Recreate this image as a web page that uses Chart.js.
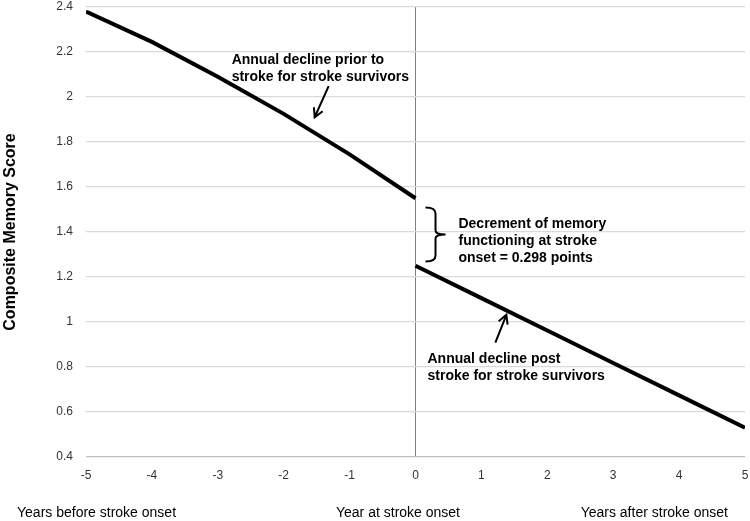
<!DOCTYPE html>
<html>
<head>
<meta charset="utf-8">
<script src="https://cdn.jsdelivr.net/npm/chart.js@4/dist/chart.umd.min.js"></script>
<style>
  html, body { margin: 0; padding: 0; background: #fff; }
  #wrap { width: 750px; height: 521px; position: relative; }
</style>
</head>
<body>
<div id="wrap"><canvas id="memoryChart"></canvas></div>
<script>
// years relative to stroke onset
const yearsBefore = [-5, -4, -3, -2, -1, 0];
const yearsAfter = [0, 1, 2, 3, 4, 5];

// composite memory score
const scoreBefore = [2.38, 2.245, 2.09, 1.925, 1.745, 1.55];
const scoreAfter = [1.25, 1.106, 0.962, 0.818, 0.674, 0.53];

const xTicks = [-5, -4, -3, -2, -1, 0, 1, 2, 3, 4, 5];
const yTicks = [0.4, 0.6, 0.8, 1, 1.2, 1.4, 1.6, 1.8, 2, 2.2, 2.4];

const bottomLabels = ["Years before stroke onset", "Year at stroke onset", "Years after stroke onset"];

const colors = {
  line: "#000000",
  grid: "#d9d9d9",
  axis: "#bfbfbf",
  zero: "#808080",
  text: "#333333",
  title: "#000000",
};

const FONT = "'Liberation Sans', Arial, sans-serif";

// annotation text + arrows, given in data coordinates
const notes = [
  { lines: ["Annual decline prior to", "stroke for stroke survivors"], x: -2.79, y: 2.164 },
  { lines: ["Decrement of memory", "functioning at stroke", "onset = 0.298 points"], x: 0.652, y: 1.433 },
  { lines: ["Annual decline post", "stroke for stroke survivors"], x: 0.182, y: 0.837 },
];
const arrows = [
  { from: [-1.318, 2.048], to: [-1.53, 1.91] },
  { from: [1.212, 0.908], to: [1.379, 1.032] },
];
const brace = { x: 0.152, top: 1.509, bottom: 1.269 };

function toPx(chart, x, y) {
  return [chart.scales.x.getPixelForValue(x), chart.scales.y.getPixelForValue(y)];
}

const annotationPlugin = {
  id: "annotations",
  afterDatasetsDraw(chart) {
    const ctx = chart.ctx;
    ctx.save();
    ctx.fillStyle = "#000";
    ctx.font = `bold 14px ${FONT}`;
    ctx.textBaseline = "middle";
    ctx.textAlign = "left";
    notes.forEach((n) => {
      const [px, py] = toPx(chart, n.x, n.y);
      n.lines.forEach((t, i) => ctx.fillText(t, px, py + i * 17));
    });

    ctx.strokeStyle = "#000";
    ctx.lineWidth = 2;
    arrows.forEach((a) => {
      const [x1, y1] = toPx(chart, a.from[0], a.from[1]);
      const [x2, y2] = toPx(chart, a.to[0], a.to[1]);
      const ang = Math.atan2(y2 - y1, x2 - x1);
      ctx.beginPath();
      ctx.moveTo(x1, y1);
      ctx.lineTo(x2, y2);
      ctx.moveTo(x2 - 10 * Math.cos(ang - 0.5), y2 - 10 * Math.sin(ang - 0.5));
      ctx.lineTo(x2, y2);
      ctx.lineTo(x2 - 10 * Math.cos(ang + 0.5), y2 - 10 * Math.sin(ang + 0.5));
      ctx.stroke();
    });

    // curly brace
    const [bx, bt] = toPx(chart, brace.x, brace.top);
    const [, bb] = toPx(chart, brace.x, brace.bottom);
    const mid = (bt + bb) / 2;
    ctx.lineWidth = 2;
    ctx.beginPath();
    ctx.moveTo(bx, bt);
    ctx.quadraticCurveTo(bx + 10, bt, bx + 10, bt + 6);
    ctx.lineTo(bx + 10, mid - 4);
    ctx.quadraticCurveTo(bx + 10, mid, bx + 20, mid);
    ctx.quadraticCurveTo(bx + 10, mid, bx + 10, mid + 4);
    ctx.lineTo(bx + 10, bb - 6);
    ctx.quadraticCurveTo(bx + 10, bb, bx, bb);
    ctx.stroke();

    // period labels under the axis
    ctx.font = `14px ${FONT}`;
    ctx.fillStyle = "#000";
    ctx.textBaseline = "middle";
    const y = 513;
    ctx.textAlign = "left";
    ctx.fillText(bottomLabels[0], 17, y);
    ctx.textAlign = "center";
    ctx.fillText(bottomLabels[1], 398, y);
    ctx.textAlign = "right";
    ctx.fillText(bottomLabels[2], 728, y);
    ctx.restore();
  },
};

new Chart(document.getElementById("memoryChart"), {
  type: "line",
  data: {
    datasets: [
      {
        label: "Before stroke",
        data: yearsBefore.map((x, i) => ({ x, y: scoreBefore[i] })),
        borderColor: colors.line,
        borderWidth: 4,
        pointRadius: 0,
        tension: 0,
      },
      {
        label: "After stroke",
        data: yearsAfter.map((x, i) => ({ x, y: scoreAfter[i] })),
        borderColor: colors.line,
        borderWidth: 4,
        pointRadius: 0,
        tension: 0,
      },
    ],
  },
  options: {
    responsive: true,
    maintainAspectRatio: false,
    animation: false,
    layout: { padding: { top: 7, right: 5, left: 0, bottom: 0 } },
    plugins: {
      legend: { display: false },
      tooltip: { enabled: false },
    },
    scales: {
      x: {
        type: "linear",
        min: -5,
        max: 5,
        afterBuildTicks(scale) {
          scale.ticks = xTicks.map((v) => ({ value: v }));
        },
        afterFit(scale) {
          scale.height = 64;
          scale.paddingLeft = 0;
          scale.paddingRight = 0;
        },
        border: { display: false },
        grid: {
          drawTicks: false,
          color: (c) => (c.tick && c.tick.value === 0 ? colors.zero : "rgba(0,0,0,0)"),
          lineWidth: 1,
        },
        ticks: {
          padding: 11,
          color: colors.text,
          font: { family: FONT, size: 12 },
        },
      },
      y: {
        min: 0.4,
        max: 2.4,
        afterBuildTicks(scale) {
          scale.ticks = yTicks.map((v) => ({ value: v }));
        },
        afterFit(scale) {
          scale.width = 86;
          scale.paddingTop = 0;
          scale.paddingBottom = 0;
        },
        border: { display: false },
        grid: {
          drawTicks: false,
          color: (c) => (c.tick && c.tick.value === 0.4 ? colors.axis : colors.grid),
          lineWidth: 1.3,
        },
        ticks: {
          padding: 13,
          color: colors.text,
          font: { family: FONT, size: 12 },
          callback(value) {
            return String(Number(value.toFixed(1)));
          },
        },
        title: {
          display: true,
          text: "Composite Memory Score",
          color: colors.title,
          padding: { top: 1, bottom: 0 },
          font: { family: FONT, size: 16, weight: "bold" },
        },
      },
    },
  },
  plugins: [annotationPlugin],
});
</script>
</body>
</html>
